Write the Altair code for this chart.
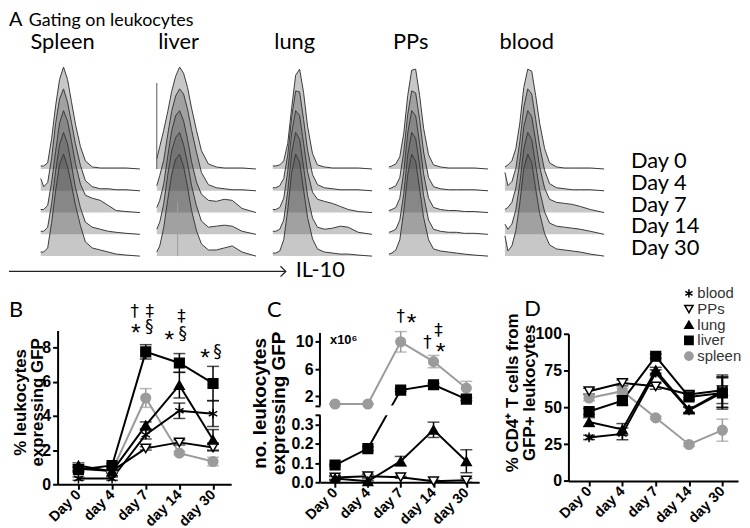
import altair as alt
import pandas as pd

# ---------------- data ----------------
organs = ["blood", "PPs", "lung", "liver", "spleen"]
draw_order = ["spleen", "blood", "PPs", "lung", "liver"]
day_labels = ["Day 0", "day 4", "day 7", "day 14", "day 30"]

# Panel B: % leukocytes expressing GFP
b_mean = {
    "blood":  [0.33, 0.33, 2.90, 4.30, 4.13],
    "PPs":    [0.90, 0.78, 2.10, 2.45, 2.15],
    "lung":   [1.10, 0.75, 3.45, 5.80, 2.60],
    "liver":  [0.85, 1.10, 7.75, 7.10, 5.90],
    "spleen": [0.97, 0.78, 5.05, 1.82, 1.33],
}
b_err = {
    "blood":  [0.10, 0.10, 0.25, 0.45, 0.75],
    "PPs":    [0.15, 0.10, 0.10, 0.15, 0.20],
    "lung":   [0.15, 0.10, 0.20, 0.75, 0.60],
    "liver":  [0.15, 0.10, 0.42, 0.55, 1.00],
    "spleen": [0.15, 0.10, 0.55, 0.10, 0.25],
}
# Panel C: no. leukocytes expressing GFP (x10^6)
c_mean = {
    "PPs":    [0.025, 0.032, 0.026, 0.005, 0.010],
    "lung":   [0.020, 0.005, 0.110, 0.274, 0.110],
    "liver":  [0.090, 0.176, 2.92, 3.70, 1.60],
    "spleen": [0.88, 0.88, 10.0, 7.10, 3.20],
}
c_err = {
    "PPs":    [0.010, 0.010, 0.005, 0.005, 0.010],
    "lung":   [0.010, 0.005, 0.025, 0.040, 0.060],
    "liver":  [0.005, 0.010, 0.20, 0.20, 0.20],
    "spleen": [0.0, 0.0, 1.50, 0.90, 1.00],
}
c_tick_vals = [0, 0.1, 0.2, 0.3, 2, 6, 10]
c_tick_labels = ["0.0", "0.1", "0.2", "0.3", "2", "6", "10"]
c_break_lo = [0, 0.65]
c_break_hi = [0.35, 11.3]
# Panel D: % CD4+ T cells from GFP+ leukocytes
d_mean = {
    "blood":  [29.6, 32.0, 73.5, 48.0, 60.0],
    "PPs":    [61.0, 66.6, 64.3, 58.7, 61.6],
    "lung":   [40.0, 35.0, 75.2, 48.5, 61.0],
    "liver":  [47.2, 54.6, 84.7, 57.1, 59.8],
    "spleen": [56.4, 61.0, 42.9, 24.8, 34.5],
}
d_err = {
    "blood":  [1.5, 4.0, 2.0, 2.0, 10.0],
    "PPs":    [2.0, 2.0, 2.0, 2.0, 9.0],
    "lung":   [3.0, 4.0, 2.0, 2.0, 11.0],
    "liver":  [2.0, 3.0, 1.5, 2.0, 11.0],
    "spleen": [2.0, 2.0, 1.0, 1.0, 7.5],
}

# Panel A: IL-10 histograms (normalised to mode)
hist_organs = ["Spleen", "liver", "lung", "PPs", "blood"]
hist_days = ["Day 0", "Day 4", "Day 7", "Day 14", "Day 30"]
hist_x = [0, 3, 7, 11, 15, 19, 23, 27, 31, 35, 40, 45, 52, 60, 68, 76, 86, 100]
spleen_hist = [
    [0.03, 0.03, 0.06, 0.30, 0.62, 0.88, 1.00, 0.88, 0.66, 0.44, 0.22, 0.08, 0.02, 0.01, 0.01, 0.01, 0.01, 0.00],
    [0.12, 0.04, 0.08, 0.32, 0.66, 0.90, 1.00, 0.87, 0.67, 0.46, 0.25, 0.10, 0.04, 0.02, 0.02, 0.01, 0.01, 0.00],
    [0.03, 0.03, 0.07, 0.30, 0.60, 0.88, 1.00, 0.90, 0.70, 0.48, 0.28, 0.17, 0.14, 0.12, 0.07, 0.02, 0.01, 0.00],
    [0.03, 0.03, 0.07, 0.30, 0.62, 0.88, 1.00, 0.89, 0.68, 0.46, 0.26, 0.12, 0.07, 0.05, 0.03, 0.02, 0.01, 0.00],
    [0.04, 0.04, 0.08, 0.33, 0.64, 0.90, 1.00, 0.88, 0.70, 0.50, 0.30, 0.14, 0.08, 0.06, 0.04, 0.02, 0.01, 0.00],
]
liver_hist = [
    [0.10, 0.22, 0.38, 0.56, 0.76, 0.91, 1.00, 0.94, 0.80, 0.60, 0.38, 0.18, 0.05, 0.02, 0.01, 0.01, 0.01, 0.00],
    [0.05, 0.15, 0.30, 0.55, 0.78, 0.93, 1.00, 0.95, 0.80, 0.60, 0.38, 0.18, 0.06, 0.03, 0.02, 0.01, 0.01, 0.00],
    [0.05, 0.12, 0.28, 0.55, 0.80, 0.95, 1.00, 0.90, 0.72, 0.50, 0.30, 0.18, 0.12, 0.11, 0.13, 0.12, 0.04, 0.00],
    [0.05, 0.12, 0.30, 0.58, 0.82, 0.95, 1.00, 0.88, 0.70, 0.48, 0.28, 0.13, 0.07, 0.08, 0.09, 0.08, 0.03, 0.00],
    [0.04, 0.10, 0.28, 0.55, 0.80, 0.95, 1.00, 0.88, 0.68, 0.45, 0.25, 0.12, 0.06, 0.06, 0.08, 0.10, 0.04, 0.00],
]
lung_hist = [
    [0.03, 0.03, 0.04, 0.08, 0.25, 0.60, 0.92, 0.98, 0.75, 0.42, 0.15, 0.04, 0.02, 0.01, 0.01, 0.01, 0.01, 0.00],
    [0.03, 0.03, 0.05, 0.12, 0.35, 0.72, 0.98, 0.97, 0.70, 0.40, 0.16, 0.06, 0.03, 0.02, 0.01, 0.01, 0.01, 0.00],
    [0.03, 0.03, 0.05, 0.14, 0.40, 0.78, 1.00, 0.95, 0.68, 0.40, 0.20, 0.13, 0.11, 0.09, 0.06, 0.03, 0.01, 0.00],
    [0.03, 0.03, 0.05, 0.14, 0.42, 0.80, 1.00, 0.93, 0.66, 0.38, 0.16, 0.07, 0.05, 0.06, 0.08, 0.07, 0.02, 0.00],
    [0.03, 0.03, 0.05, 0.16, 0.45, 0.82, 1.00, 0.92, 0.65, 0.38, 0.17, 0.07, 0.04, 0.03, 0.02, 0.02, 0.01, 0.00],
]
pps_hist = [
    [0.02, 0.03, 0.05, 0.12, 0.35, 0.72, 0.97, 0.98, 0.72, 0.40, 0.14, 0.04, 0.02, 0.01, 0.01, 0.01, 0.01, 0.00],
    [0.02, 0.03, 0.05, 0.13, 0.38, 0.75, 0.98, 0.96, 0.70, 0.38, 0.13, 0.04, 0.02, 0.01, 0.01, 0.01, 0.01, 0.00],
    [0.02, 0.03, 0.05, 0.14, 0.40, 0.78, 1.00, 0.95, 0.68, 0.38, 0.14, 0.05, 0.03, 0.02, 0.02, 0.01, 0.01, 0.00],
    [0.02, 0.03, 0.05, 0.14, 0.40, 0.78, 1.00, 0.94, 0.68, 0.38, 0.14, 0.05, 0.03, 0.02, 0.02, 0.01, 0.01, 0.00],
    [0.02, 0.03, 0.06, 0.16, 0.44, 0.80, 1.00, 0.93, 0.66, 0.38, 0.16, 0.07, 0.05, 0.04, 0.03, 0.02, 0.01, 0.00],
]
blood_hist = [
    [0.02, 0.04, 0.08, 0.20, 0.45, 0.80, 0.98, 0.96, 0.72, 0.45, 0.20, 0.06, 0.02, 0.01, 0.01, 0.01, 0.01, 0.00],
    [0.18, 0.05, 0.09, 0.22, 0.48, 0.82, 1.00, 0.95, 0.70, 0.44, 0.20, 0.07, 0.03, 0.02, 0.01, 0.01, 0.01, 0.00],
    [0.03, 0.05, 0.10, 0.24, 0.50, 0.84, 1.00, 0.94, 0.70, 0.45, 0.24, 0.13, 0.10, 0.09, 0.08, 0.06, 0.03, 0.00],
    [0.10, 0.05, 0.10, 0.24, 0.50, 0.84, 1.00, 0.93, 0.68, 0.43, 0.22, 0.11, 0.08, 0.07, 0.06, 0.05, 0.03, 0.00],
    [0.20, 0.05, 0.10, 0.25, 0.52, 0.86, 1.00, 0.92, 0.66, 0.42, 0.22, 0.11, 0.07, 0.06, 0.05, 0.04, 0.02, 0.00],
]

# ---------------- styles ----------------
ASTERISK = "M0,-1L0,1M-0.866,-0.5L0.866,0.5M-0.866,0.5L0.866,-0.5"
SHAPES = [ASTERISK, "triangle-down", "triangle-up", "square", "circle"]
GRAY = "#9b9b9b"
FILLS = ["black", "white", "black", "black", GRAY]
STROKES = ["black", "black", "black", "black", GRAY]
SANS = "Liberation Sans"
LATO = "Lato"
SYM = "DejaVu Sans"

one = pd.DataFrame({"k": [0]})


def series_df(means, errs):
    rows = []
    for org in draw_order:
        if org not in means:
            continue
        for di, (m, e) in enumerate(zip(means[org], errs[org])):
            rows.append(dict(organ=org, di=di, mean=m, err=e, lo=m - e, hi=m + e))
    return pd.DataFrame(rows)


x_label_expr = "[" + ",".join(f"'{d}'" for d in day_labels) + "][datum.value]"
axis_common = dict(domainWidth=2, domainColor="black", tickWidth=2, tickColor="black",
                   tickSize=5, labelFont=SANS, labelFontWeight="bold", labelColor="black",
                   grid=False, labelOverlap=False)


def x_axis():
    return alt.Axis(values=[0, 1, 2, 3, 4], labelExpr=x_label_expr, labelAngle=315,
                    labelAlign="right", labelBaseline="middle", labelFontSize=14.5,
                    labelPadding=3, title=None, **axis_common)


def y_axis(values, title, tx, ty, tsize, label_expr=None, domain=True):
    kw = dict(values=values, title=title, titleX=tx, titleY=ty, titleAngle=270,
              titleAlign="center", titleBaseline="top", titleFont=SANS,
              titleFontWeight="bold", titleFontSize=tsize, titleLineHeight=tsize,
              titleColor="black", labelFontSize=16, labelPadding=2, domain=domain,
              **axis_common)
    if label_expr:
        kw["labelExpr"] = label_expr
    return alt.Axis(**kw)


def line_panel(df, width, height, xdom, yscale, yaxis, letter, letter_pos,
               annotations, prep=None, mid_layers=(), extra=()):
    base = alt.Chart(df)
    if prep is not None:
        base = prep(base)
    xs = alt.Scale(domain=xdom, nice=False, zero=False)
    X = alt.X("di:Q", scale=xs, axis=x_axis())
    Y = alt.Y("mean:Q", scale=yscale, axis=yaxis)
    Ylo = alt.Y("lo:Q", scale=yscale, axis=yaxis)
    Yhi = alt.Y("hi:Q", scale=yscale, axis=yaxis)
    col = alt.Color("organ:N", scale=alt.Scale(domain=organs, range=STROKES), legend=None)
    lines = base.mark_line(strokeWidth=2).encode(x=X, y=Y, color=col)
    bars = base.mark_rule(strokeWidth=1.5).encode(x=X, y=Ylo, y2="hi:Q", color=col)
    cap_lo = base.mark_tick(orient="horizontal", size=12, thickness=1.5).encode(x=X, y=Ylo, color=col)
    cap_hi = base.mark_tick(orient="horizontal", size=12, thickness=1.5).encode(x=X, y=Yhi, color=col)
    pts = base.mark_point(filled=True, opacity=1, strokeWidth=1.5, size=95).encode(
        x=X, y=Y,
        shape=alt.Shape("organ:N", scale=alt.Scale(domain=organs, range=SHAPES), legend=None),
        fill=alt.Fill("organ:N", scale=alt.Scale(domain=organs, range=FILLS), legend=None),
        stroke=alt.Stroke("organ:N", scale=alt.Scale(domain=organs, range=STROKES), legend=None),
    )
    layers = [lines] + list(mid_layers) + [bars, cap_lo, cap_hi, pts]
    # significance marks: (symbol, day index, y px from plot top, x offset px)
    for sym, di, ypx, dx in annotations:
        star = sym == "*"
        layers.append(alt.Chart(one).mark_text(
            font=SANS if star else SYM, fontSize=25 if star else 17, baseline="middle",
            align="center", dx=dx, dy=6 if star else 0, color="black").encode(
            x=alt.X("xd:Q", scale=xs, axis=x_axis()),
            y=alt.value(ypx), text=alt.value(sym)).transform_calculate(xd=str(di)))
    layers.append(alt.Chart(one).mark_text(font=LATO, fontSize=22, align="left",
                                           baseline="alphabetic", color="black").encode(
        x=alt.value(letter_pos[0]), y=alt.value(letter_pos[1]), text=alt.value(letter)))
    layers += list(extra)
    return alt.layer(*layers).properties(width=width, height=height)


# ---------- Panel B ----------
B_W, B_H = 175, 155
b_chart = line_panel(
    series_df(b_mean, b_err), B_W, B_H, [-0.62, 4.54],
    alt.Scale(domain=[0, 9], nice=False, zero=False),
    y_axis([0, 2, 4, 6, 8], ["% leukocytes", "expressing  GFP"], -45, 72, 17),
    "B", (-49, -13.5),
    [("†", 2, -18.5, -11), ("‡", 2, -18.5, 4), ("*", 2, -3.5, -10), ("§", 2, -3.5, 3.5),
     ("‡", 3, -13.5, 2), ("*", 3, 4, -10), ("§", 3, 4, 3.5),
     ("*", 4, 21.5, -8), ("§", 4, 21.5, 4.5)],
)

# ---------- Panel C (broken axis) ----------
C_W, C_H = 160.5, 151


def cpos(v):
    return 193 * v if v < 0.5 else 86.6 + (v - 2) * 6.875


def cexpr(f):
    return f"datum.{f} < 0.5 ? 193 * datum.{f} : 86.6 + (datum.{f} - 2) * 6.875"


pairs = sorted([(cpos(v), lab) for v, lab in zip(c_tick_vals, c_tick_labels)]
               + [(cpos(c_break_hi[0]), ""), (cpos(c_break_lo[1]), "")])
c_label_expr = "''"
for pos, lab in reversed(pairs):
    c_label_expr = f"abs(datum.value - {pos:.3f}) < 0.5 ? '{lab}' : ({c_label_expr})"
c_yscale = alt.Scale(domain=[0, C_H], nice=False, zero=False)
c_yaxis = y_axis([p for p, _ in pairs], ["no. leukocytes", "expressing GFP"], -70, 71, 19,
                 label_expr=c_label_expr, domain=False)


def c_prep(ch):
    return ch.transform_calculate(lv="datum.lo", hv="datum.hi", mv="datum.mean").transform_calculate(
        mean=cexpr("mv"), lo=cexpr("lv"), hi=cexpr("hv"))


seg_df = pd.DataFrame({"a": c_break_lo, "b": c_break_hi})
gap_df = pd.DataFrame({"a": [c_break_hi[0]], "b": [c_break_lo[1]]})
c_gap = alt.Chart(gap_df).transform_calculate(ya=cexpr("a"), yb=cexpr("b")).mark_rect(
    color="white").encode(x=alt.value(1.5), x2=alt.value(C_W),
                          y=alt.Y("ya:Q", scale=c_yscale, axis=c_yaxis), y2="yb:Q")
c_segs = alt.Chart(seg_df).transform_calculate(ya=cexpr("a"), yb=cexpr("b")).mark_rule(
    color="black", strokeWidth=2).encode(x=alt.value(0),
                                         y=alt.Y("ya:Q", scale=c_yscale, axis=c_yaxis), y2="yb:Q")
c_x106 = alt.Chart(one).mark_text(font=SANS, fontWeight="bold", fontSize=13, align="center",
                                  baseline="middle", color="black").encode(
    x=alt.value(24), y=alt.value(8), text=alt.value("x10⁶"))
c_chart = line_panel(
    series_df(c_mean, c_err), C_W, C_H, [-0.46, 4.39], c_yscale, c_yaxis,
    "C", (-53.5, -15.5),
    [("†", 2, -15.5, 0), ("*", 2, -15.5, 11), ("‡", 3, -1.5, 5),
     ("†", 3, 11, -6), ("*", 3, 14, 7)],
    prep=c_prep, mid_layers=[c_gap], extra=[c_segs, c_x106],
)

# ---------- Panel D ----------
D_W, D_H = 171, 148.4
LEG_X, LEG_Y0, LEG_STEP = 121.5, -40.7, 15.8
legend_layers = []
for i, org in enumerate(organs):
    legend_layers.append(alt.Chart(one).mark_point(filled=True, opacity=1, strokeWidth=1.5, size=70).encode(
        x=alt.value(LEG_X), y=alt.value(LEG_Y0 + i * LEG_STEP), shape=alt.value(SHAPES[i]),
        fill=alt.value(FILLS[i]), stroke=alt.value(STROKES[i])))
    legend_layers.append(alt.Chart(one).mark_text(font=SANS, fontSize=15, align="left",
                                                  baseline="middle", color="#333333").encode(
        x=alt.value(LEG_X + 8.5), y=alt.value(LEG_Y0 + i * LEG_STEP), text=alt.value(org)))
d_chart = line_panel(
    series_df(d_mean, d_err), D_W, D_H, [-0.62, 4.47],
    alt.Scale(domain=[0, 100], nice=False, zero=False),
    y_axis([0, 25, 50, 75, 100], ["% CD4⁺ T cells from", "GFP+ leukocytes"], -64.5, 59, 17),
    "D", (-44.5, -18), [], extra=legend_layers,
)

# ---------- Panel A ----------
hist_rows = []
for organ, curves in zip(hist_organs, [spleen_hist, liver_hist, lung_hist, pps_hist, blood_hist]):
    for di, curve in enumerate(curves):
        for xv, dv in zip(hist_x, curve):
            hist_rows.append({"organ": organ, "di": di, "x": xv, "dens": dv})
hist_df = pd.DataFrame(hist_rows)

A_W, A_H = 110, 191
A_XS = alt.Scale(domain=[17, 127], nice=False, zero=False)
A_YS = alt.Scale(domain=[0, 8.7], nice=False, zero=False)


def hist_panel(organ):
    base = alt.Chart(hist_df[hist_df.organ == organ]).transform_calculate(
        base="4 - datum.di", top="4 - datum.di + datum.dens * 4.68")
    area = base.mark_area(fill="#505050", fillOpacity=0.32,
                          line={"color": "#3a3a3a", "strokeWidth": 1}).encode(
        x=alt.X("x:Q", scale=A_XS, axis=None),
        y=alt.Y("top:Q", scale=A_YS, axis=None), y2="base:Q", detail="di:N")
    label = alt.Chart(pd.DataFrame({"t": [organ]})).mark_text(
        font=LATO, fontSize=22, align="center", baseline="alphabetic", color="black").encode(
        x=alt.X("p:Q", scale=A_XS, axis=None), y=alt.value(-17.6), text="t:N"
    ).transform_calculate(p="22")
    layers = [area, label]
    if organ == "liver":
        layers.append(alt.Chart(one).transform_calculate(a="0", b="4", c="7.95").mark_rule(
            color="#555555", strokeWidth=1).encode(
            x=alt.X("a:Q", scale=A_XS, axis=None), y=alt.Y("b:Q", scale=A_YS, axis=None), y2="c:Q"))
        layers.append(alt.Chart(one).transform_calculate(a="21", b="0", c="2.5").mark_rule(
            color="#a0a0a0", strokeWidth=1).encode(
            x=alt.X("a:Q", scale=A_XS, axis=None), y=alt.Y("b:Q", scale=A_YS, axis=None), y2="c:Q"))
    if organ == "Spleen":
        layers.append(alt.Chart(one).mark_text(font=LATO, fontSize=20, align="left",
                                               baseline="alphabetic", color="black").encode(
            x=alt.value(-49), y=alt.value(-41), text=alt.value("A")))
        layers.append(alt.Chart(one).mark_text(font=LATO, fontSize=18, align="left",
                                               baseline="alphabetic", color="black").encode(
            x=alt.value(-29), y=alt.value(-41), text=alt.value("Gating on leukocytes")))
        layers.append(alt.Chart(one).mark_rule(color="#222222", strokeWidth=1.3).encode(
            x=alt.value(-49), x2=alt.value(230), y=alt.value(206.4)))
        layers.append(alt.Chart(one).mark_point(shape="M-1,-1L0,0L-1,1", size=110, filled=False,
                                                stroke="#222222", strokeWidth=1.3, opacity=1).encode(
            x=alt.value(230), y=alt.value(206.4)))
        layers.append(alt.Chart(one).mark_text(font=LATO, fontSize=22, align="left",
                                               baseline="alphabetic", color="black").encode(
            x=alt.value(240), y=alt.value(212.4), text=alt.value("IL-10")))
    if organ == "blood":
        layers.append(alt.Chart(pd.DataFrame({"day": hist_days, "di": list(range(5))})).transform_calculate(
            base="4 - datum.di").mark_text(font=LATO, fontSize=22, align="left",
                                           baseline="alphabetic", dy=-1, color="black").encode(
            x=alt.value(110), y=alt.Y("base:Q", scale=A_YS, axis=None), text="day:N"))
    return alt.layer(*layers).properties(width=A_W, height=A_H)


top_row = alt.hconcat(*[hist_panel(o) for o in hist_organs], spacing=7, bounds="flush")
bottom_row = alt.hconcat(b_chart, c_chart, d_chart, spacing=89.5, bounds="flush", center=True)

chart = alt.vconcat(top_row, bottom_row, spacing=4, padding=0).configure_view(stroke=None)

chart.save("out.html", embed_options={"renderer": "svg", "actions": False})
